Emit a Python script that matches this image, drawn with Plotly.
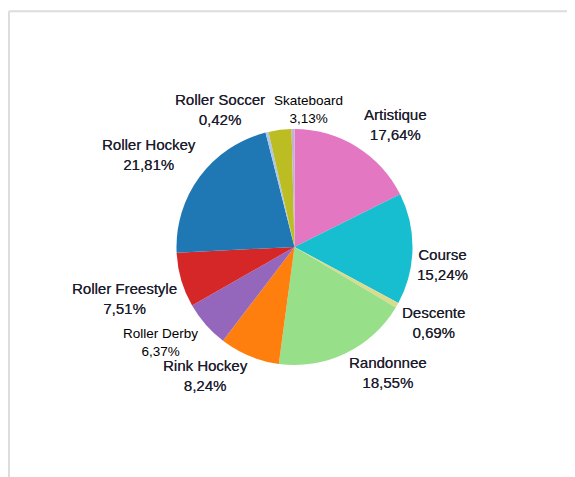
import math
import plotly.graph_objects as go

labels = ["Artistique", "Course", "Descente", "Randonnee", "Rink Hockey",
          "Roller Derby", "Roller Freestyle", "Roller Hockey", "Roller Soccer",
          "Skateboard", ""]
values = [17.64, 15.24, 0.69, 18.55, 8.24, 6.37, 7.51, 21.81, 0.42, 3.13, 0.40]
pct_text = ["17,64%", "15,24%", "0,69%", "18,55%", "8,24%", "6,37%", "7,51%",
            "21,81%", "0,42%", "3,13%", ""]

# --- styling ---
colors = ["#e377c2", "#17becf", "#dbdb8d", "#98df8a", "#ff7f0e", "#9467bd",
          "#d62728", "#1f77b4", "#aec7e8", "#bcbd22", "#c5b0d5"]
plain = ["Roller Derby", "Skateboard"]
# label placement tweaks (angle nudge in degrees, distance from centre in px)
label_place = {
    "Artistique": (7.8, 158.8), "Course": (6.0, 148.6), "Descente": (-0.9, 158.4),
    "Randonnee": (-10.6, 156.6), "Rink Hockey": (12.1, 156.0), "Roller Derby": (5.7, 164.5),
    "Roller Freestyle": (-0.6, 177.2), "Roller Hockey": (-4.1, 172.4),
    "Roller Soccer": (-14.9, 156.4), "Skateboard": (12.7, 138.2),
}

OFF = 8  # page body margin
W, H = 575 - OFF, 477 - OFF
cx, cy, R = 294.5 - OFF, 246.75 - OFF, 118.25
ml, mr, mt, mb = cx - R, W - (cx + R), cy - R, H - (cy + R)
pw, ph = W - ml - mr, H - mt - mb

fig = go.Figure(go.Pie(
    labels=[l if l else "autre" for l in labels],
    values=values,
    textinfo="none",
    sort=False,
    direction="clockwise",
    rotation=0,
    marker=dict(colors=colors, line=dict(width=0)),
    showlegend=False,
    automargin=False,
    hovertemplate="%{label}: %{percent}<extra></extra>",
))

total = sum(values)
cum = 0.0
for lab, val, pt in zip(labels, values, pct_text):
    mid = (cum + val / 2) / total * 360.0
    cum += val
    if not lab:
        continue
    dth, r = label_place[lab]
    th = math.radians(mid + dth)
    px = 0.5 + r * math.sin(th) / pw
    py = 0.5 + r * math.cos(th) / ph
    is_plain = lab in plain
    fig.add_annotation(
        x=px, y=py, xref="paper", yref="paper", showarrow=False,
        xanchor="center", yanchor="middle", align="center",
        text=f"{lab}<br>{pt}",
        font=dict(family="Liberation Sans, Arial, sans-serif",
                  size=13.5 if is_plain else 15,
                  color="#000000" if is_plain else "#1a1a2c",
                  shadow="none" if is_plain else "0.25px 0 0 rgba(26,26,44,0.8)"),
    )

x_left = (9.5 - OFF - ml) / pw
y_top = (H - mb - (10.5 - OFF)) / ph
fig.add_shape(type="line", xref="paper", yref="paper", x0=x_left, x1=3, y0=y_top, y1=y_top,
              line=dict(color="#dcdcdc", width=2))
fig.add_shape(type="line", xref="paper", yref="paper", x0=x_left, x1=x_left, y0=y_top, y1=-3,
              line=dict(color="#dcdcdc", width=2))

fig.update_layout(
    width=W, height=H,
    margin=dict(l=ml, r=mr, t=mt, b=mb),
    paper_bgcolor="white", plot_bgcolor="white",
)
fig.write_html("out.html")
